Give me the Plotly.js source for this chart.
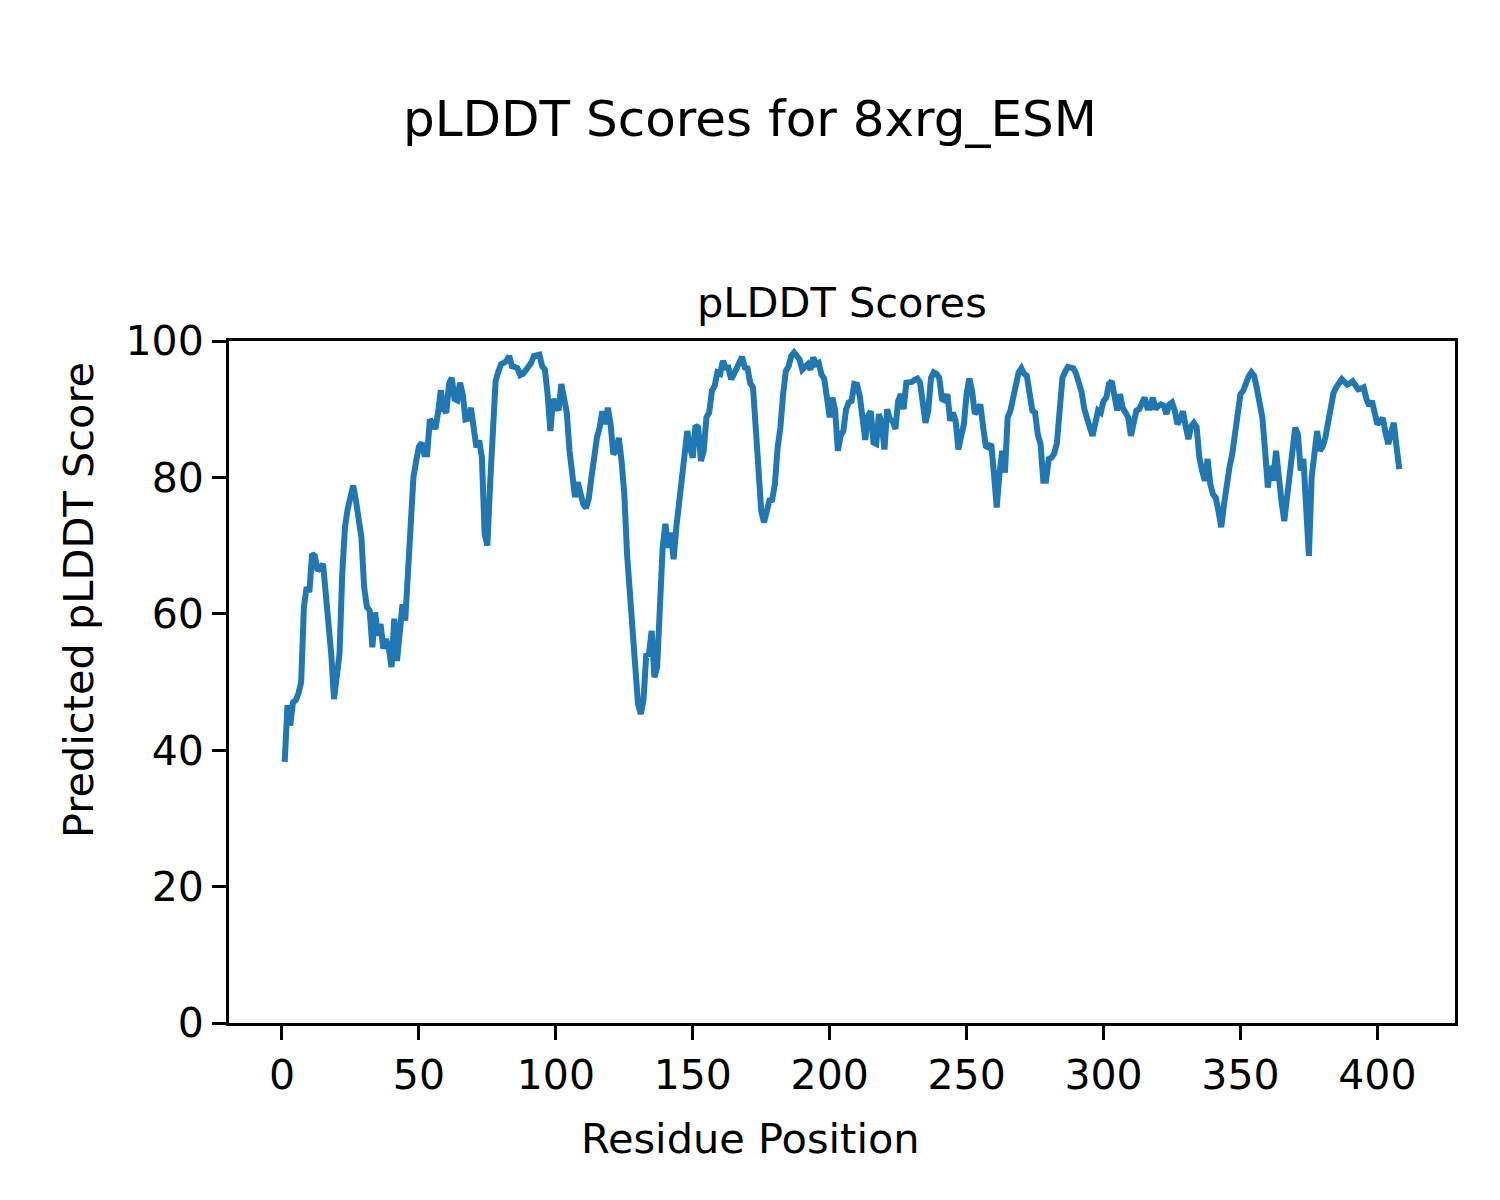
<!DOCTYPE html>
<html>
<head>
<meta charset="utf-8">
<script src="https://cdn.plot.ly/plotly-3.0.1.min.js"></script>
<style>html,body{margin:0;padding:0;background:#fff;}#chart{width:1500px;height:1200px;}</style>
</head>
<body>
<div id="chart"></div>
<script>
const figureTitle = "pLDDT Scores for 8xrg_ESM";
const axesTitle = "pLDDT Scores";
const xLabel = "Residue Position";
const yLabel = "Predicted pLDDT Score";
const xTicks = [0, 50, 100, 150, 200, 250, 300, 350, 400];
const yTicks = [0, 20, 40, 60, 80, 100];

const plddt = [
  38.3, 46.6, 43.6, 47.0, 47.3, 48.3, 50.0, 61.0, 63.9, 63.2,
  68.8, 68.5, 66.3, 67.0, 67.3, 62.9, 59.0, 54.0, 47.5, 51.0,
  54.1, 65.8, 72.7, 75.4, 77.5, 78.8, 76.6, 73.2, 71.2, 63.9,
  61.0, 60.5, 55.1, 60.2, 56.8, 58.5, 54.9, 56.3, 55.0, 52.2,
  59.3, 53.1, 57.0, 61.4, 59.0, 66.3, 70.2, 80.0, 82.4, 84.5,
  85.1, 83.4, 83.4, 88.5, 88.0, 87.1, 89.5, 92.8, 90.0, 89.5,
  93.7, 94.6, 91.5, 91.3, 93.9, 92.2, 88.5, 88.6, 90.2, 87.1,
  84.4, 85.4, 82.9, 71.7, 70.0, 79.0, 87.1, 94.1, 95.5, 96.6,
  96.8, 97.1, 97.8, 96.3, 96.2, 96.0, 95.0, 95.2, 95.7, 96.2,
  96.8, 97.8, 97.9, 98.0, 96.3, 95.8, 92.2, 86.8, 91.5, 90.7,
  89.8, 93.7, 91.2, 89.5, 83.9, 81.0, 77.1, 79.3, 77.5, 76.1,
  75.5, 76.8, 80.0, 83.9, 85.8, 87.3, 89.7, 87.8, 90.2, 87.8,
  83.4, 83.9, 85.8, 82.4, 77.6, 68.8, 63.0, 60.0, 54.0, 46.8,
  45.3, 47.3, 53.9, 54.1, 57.5, 50.7, 52.2, 62.0, 69.7, 73.2,
  69.7, 71.9, 68.0, 72.7, 76.1, 78.5, 82.0, 86.8, 84.4, 82.9,
  87.6, 87.3, 82.4, 83.9, 88.8, 89.5, 92.7, 93.4, 95.4, 95.2,
  97.1, 96.1, 96.1, 94.4, 95.1, 96.0, 96.8, 97.7, 96.1, 96.0,
  93.8, 93.2, 87.3, 79.5, 75.1, 73.4, 75.1, 76.6, 76.7, 79.0,
  84.4, 87.3, 92.2, 95.6, 96.3, 97.8, 98.3, 97.8, 97.3, 95.8,
  96.2, 96.6, 95.8, 97.6, 96.6, 96.8, 95.1, 94.5, 91.7, 88.8,
  91.7, 89.8, 83.9, 86.1, 86.8, 90.0, 91.0, 91.2, 93.7, 93.6,
  91.9, 89.0, 85.5, 89.0, 89.7, 85.1, 84.9, 89.3, 87.8, 84.1,
  90.0, 88.5, 88.3, 87.1, 91.2, 92.2, 90.0, 93.9, 93.9, 94.0,
  94.3, 94.5, 93.9, 91.2, 88.0, 89.8, 94.6, 95.4, 95.2, 94.6,
  91.5, 91.3, 92.2, 88.3, 89.5, 88.3, 84.1, 86.0, 87.8, 92.2,
  94.5, 92.7, 89.3, 89.8, 90.7, 87.5, 84.6, 84.4, 84.9, 80.5,
  75.6, 80.5, 83.9, 80.7, 88.8, 89.8, 91.5, 93.4, 95.4, 96.0,
  95.2, 94.9, 92.0, 89.8, 89.5, 86.3, 84.9, 79.5, 79.5, 82.7,
  82.9, 83.5, 85.1, 90.2, 94.6, 95.5, 96.2, 96.1, 96.0, 95.2,
  94.1, 92.5, 90.0, 88.3, 87.3, 86.1, 88.5, 89.8, 89.5, 91.2,
  91.7, 93.7, 94.1, 92.2, 89.8, 92.2, 90.2, 89.5, 88.8, 86.1,
  88.0, 89.8, 90.0, 91.0, 91.7, 90.2, 90.2, 91.7, 90.0, 90.5,
  90.7, 90.5, 89.3, 90.7, 91.0, 89.8, 87.8, 88.5, 89.7, 87.5,
  85.6, 87.5, 88.0, 87.4, 82.9, 81.0, 79.5, 82.7, 79.0, 77.5,
  77.0, 75.0, 72.7, 76.0, 79.5, 81.5, 83.4, 86.0, 90.0, 92.2,
  92.7, 94.1, 94.8, 95.4, 94.9, 93.0, 90.5, 88.8, 83.9, 78.5,
  81.7, 79.5, 83.9, 79.5, 76.5, 73.6, 77.0, 81.0, 84.0, 87.3,
  86.3, 81.0, 82.7, 75.0, 68.5, 80.0, 84.0, 86.8, 83.9, 84.5,
  85.8, 88.0, 90.5, 92.4, 93.2, 93.8, 94.4, 94.0, 93.6, 93.8,
  94.1, 93.5, 92.9, 93.0, 93.2, 91.5, 90.5, 91.2, 89.5, 87.8,
  88.2, 88.7, 86.5, 84.9, 86.5, 88.0, 84.5, 81.2
];
const residues = plddt.map((_, i) => i + 1);

const FONT = "DejaVu Sans, Liberation Sans, sans-serif";
const n = residues.length;
const pad = 0.05 * (residues[n - 1] - residues[0]);

// plot area in pixels (used to place figure-level labels)
const W = 1500, H = 1200;
const M = {l: 229, r: 45, t: 341, b: 177};
const pw = W - M.l - M.r, ph = H - M.t - M.b;
const px2paperX = px => (px - M.l) / pw;
const py2paperY = py => (H - M.b - py) / ph;

const trace = {
  x: residues, y: plddt, type: "scatter", mode: "lines",
  line: {color: "#1f77b4", width: 6}, showlegend: false, hoverinfo: "skip"
};

const axisCommon = {
  showgrid: false, zeroline: false, showline: true, mirror: true,
  linecolor: "#000", linewidth: 3, ticks: "outside", ticklen: 14, tickwidth: 3,
  tickcolor: "#000", tickfont: {family: FONT, size: 41, color: "#000"}
};

const layout = {
  width: W, height: H,
  paper_bgcolor: "#fff", plot_bgcolor: "#fff",
  margin: M,
  font: {family: FONT, color: "#000"},
  title: {text: figureTitle, font: {family: FONT, size: 50, color: "#000"},
          xref: "container", x: 0.5, xanchor: "center", yref: "container", y: 1 - 118 / H, yanchor: "middle"},
  xaxis: Object.assign({}, axisCommon, {
    range: [residues[0] - pad, residues[n - 1] + pad],
    tickvals: xTicks, ticktext: xTicks.map(String)
  }),
  yaxis: Object.assign({}, axisCommon, {
    range: [0, 100],
    tickvals: yTicks, ticktext: yTicks.map(String)
  }),
  annotations: [
    {text: axesTitle, xref: "paper", yref: "paper", x: 0.5, y: py2paperY(302),
     xanchor: "center", yanchor: "middle", showarrow: false,
     font: {family: FONT, size: 41.5, color: "#000"}},
    {text: xLabel, xref: "paper", yref: "paper", x: px2paperX(750), y: py2paperY(1138),
     xanchor: "center", yanchor: "middle", showarrow: false,
     font: {family: FONT, size: 41.5, color: "#000"}},
    {text: yLabel, xref: "paper", yref: "paper", x: px2paperX(78), y: py2paperY(600),
     xanchor: "center", yanchor: "middle", showarrow: false, textangle: -90,
     font: {family: FONT, size: 41.5, color: "#000"}}
  ]
};

Plotly.newPlot("chart", [trace], layout, {staticPlot: true, displayModeBar: false});
</script>
</body>
</html>
